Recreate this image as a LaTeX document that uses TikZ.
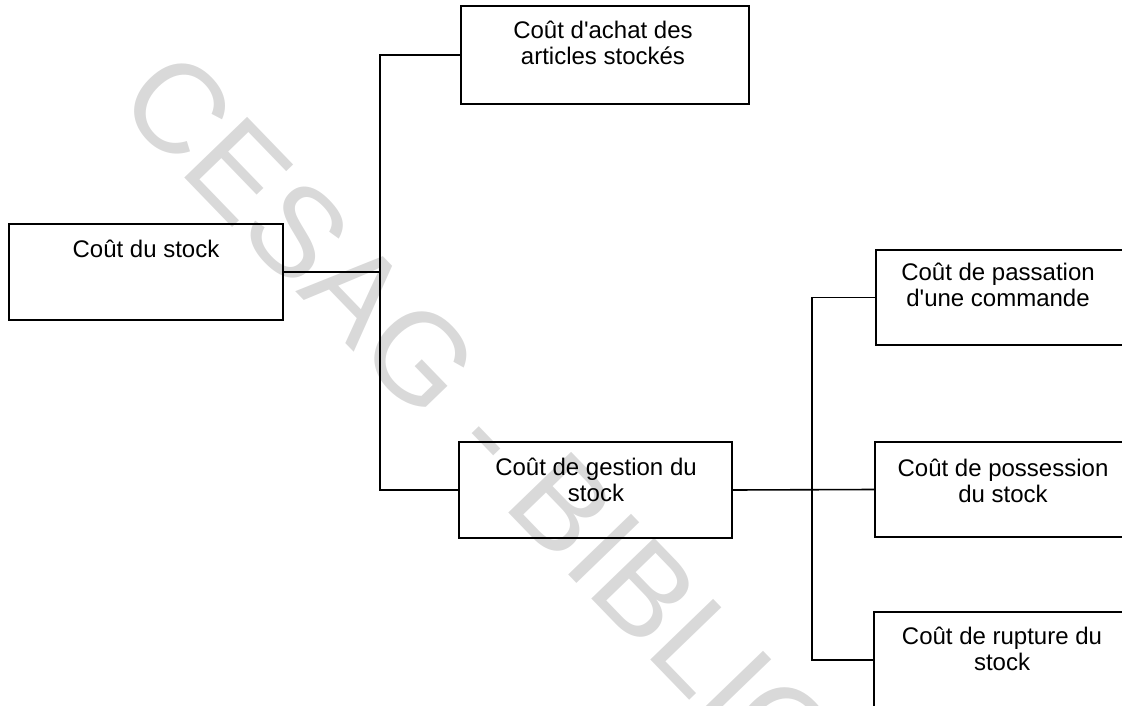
\documentclass[tikz,border=0pt]{standalone}
\usepackage{fontspec}
\setmainfont{Liberation Sans}
\definecolor{wmgray}{gray}{0.85}
\begin{document}
\begin{tikzpicture}[x=1pt,y=-1pt,
  box/.style={draw=black, line width=1.9pt, inner sep=0pt, outer sep=0pt},
  lbl/.style={font=\fontsize{24}{26}\selectfont, align=center, inner sep=0pt, anchor=base},
  link/.style={draw=black, line width=1.6pt},
  wmark/.style={text=wmgray, font=\fontsize{127}{127}\selectfont, inner sep=0pt, anchor=base west}]
\useasboundingbox (0,0) rectangle (1122,706);
\clip (0,0) rectangle (1122,706);

% library stamp in the background
\node[wmark, rotate=-46] (wm) at (114,104) {CESAG - BIBLIO};

% boxes
\node[box, minimum width=274pt, minimum height=96pt] (b1) at (146,272) {};
\node[box, minimum width=288pt, minimum height=98pt] (b2) at (605,55) {};
\node[box, minimum width=273pt, minimum height=96pt] (b3) at (595.5,490) {};
\node[box, minimum width=250pt, minimum height=95pt] (b4) at (1001,297.5) {};
\node[box, minimum width=251pt, minimum height=95pt] (b5) at (1000.5,489.5) {};
\node[box, minimum width=252pt, minimum height=96pt] (b6) at (1000,660) {};

% labels (anchored on the baseline of their last line)
\node[lbl] (t1) at (146,257) {Coût du stock};
\node[lbl] (t2) at (603,65) {Coût d\textquotesingle achat des\\articles stockés};
\node[lbl] (t3) at (596,501) {Coût de gestion du\\stock};
\node[lbl] (t4) at (998,306) {Coût de passation\\d\textquotesingle une commande};
\node[lbl] (t5) at (1003,502) {Coût de possession\\du stock};
\node[lbl] (t6) at (1002,670) {Coût de rupture du\\stock};

% junctions
\coordinate (j1) at (380,272);
\coordinate (j2) at (812,490);

% connectors
\draw[link] (b1.east) -- (j1);
\draw[link] (b2.west) -| (j1) |- (b3.west);
\draw[link] (b3.east) -- (b5.west);
\draw[link] (b4.west) -| (j2) |- (b6.west);
\end{tikzpicture}
\end{document}
